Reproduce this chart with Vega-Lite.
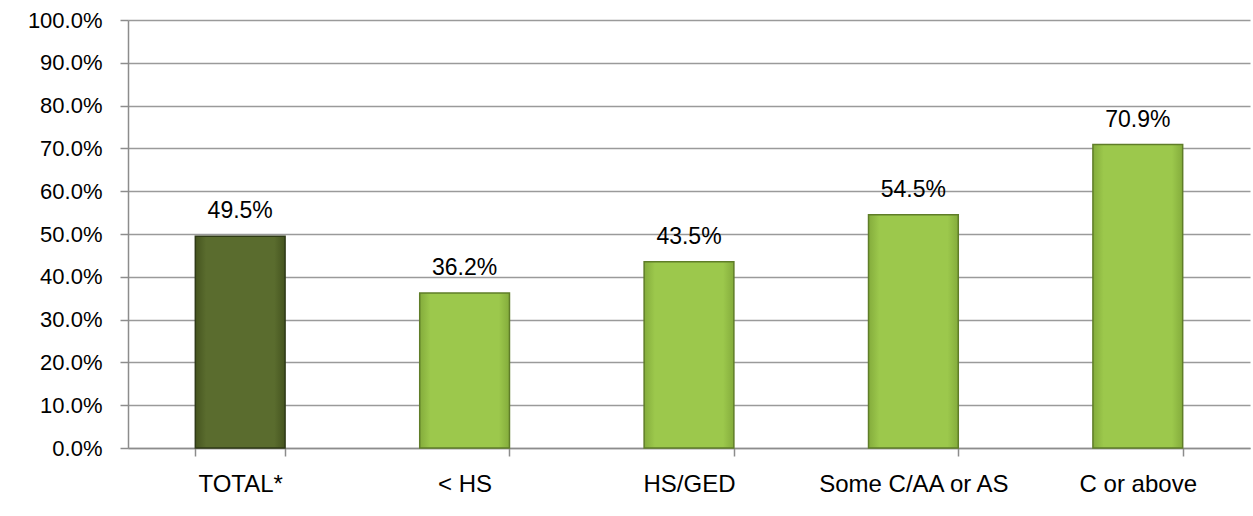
{
  "$schema": "https://vega.github.io/schema/vega-lite/v6.json",
  "autosize": "none",
  "width": 1122,
  "height": 428,
  "padding": {"left": 128, "top": 20, "right": 3, "bottom": 68},
  "background": "white",
  "config": {
    "view": {"stroke": null},
    "font": "Liberation Sans"
  },
  "data": {
    "values": [
      {"category": "TOTAL*", "value": 0.495, "group": "total"},
      {"category": "< HS", "value": 0.362, "group": "edu"},
      {"category": "HS/GED", "value": 0.435, "group": "edu"},
      {"category": "Some C/AA or AS", "value": 0.545, "group": "edu"},
      {"category": "C or above", "value": 0.709, "group": "edu"}
    ]
  },
  "encoding": {
    "x": {
      "field": "category",
      "type": "nominal",
      "sort": null,
      "title": null,
      "scale": {"paddingInner": 0.6, "paddingOuter": 0.3},
      "axis": {
        "labelAngle": 0,
        "labelFont": "Liberation Sans",
        "labelFontSize": 24,
        "labelLimit": 400,
        "labelColor": "#000000",
        "labelPadding": 16,
        "domainColor": "#8c8c8c",
        "domainWidth": 1.5,
        "tickColor": "#8c8c8c",
        "tickWidth": 1.5,
        "tickSize": 8,
        "tickBand": "extent",
        "grid": false
      }
    },
    "y": {
      "field": "value",
      "type": "quantitative",
      "title": null,
      "scale": {"domain": [0, 1], "nice": false},
      "axis": {
        "format": ".1%",
        "values": [0, 0.1, 0.2, 0.3, 0.4, 0.5, 0.6, 0.7, 0.8, 0.9, 1.0],
        "labelFont": "Liberation Sans",
        "labelFontSize": 22,
        "labelColor": "#000000",
        "labelPadding": 18,
        "domainColor": "#8c8c8c",
        "domainWidth": 1.5,
        "tickColor": "#8c8c8c",
        "tickWidth": 1.5,
        "tickSize": 8,
        "grid": true,
        "gridColor": "#9a9a9a",
        "gridWidth": 1.5
      }
    }
  },
  "layer": [
    {
      "transform": [{"filter": "datum.group === 'total'"}],
      "mark": {
        "type": "bar",
        "strokeWidth": 1.5,
        "stroke": "#2f3a17",
        "color": {
          "gradient": "linear", "x1": 0, "x2": 1, "y1": 0, "y2": 0,
          "stops": [
            {"offset": 0, "color": "#45541f"},
            {"offset": 0.12, "color": "#5a6c2e"},
            {"offset": 0.88, "color": "#5a6c2e"},
            {"offset": 1, "color": "#45541f"}
          ]
        }
      }
    },
    {
      "transform": [{"filter": "datum.group === 'edu'"}],
      "mark": {
        "type": "bar",
        "strokeWidth": 1.5,
        "stroke": "#5f7d28",
        "color": {
          "gradient": "linear", "x1": 0, "x2": 1, "y1": 0, "y2": 0,
          "stops": [
            {"offset": 0, "color": "#84ac3c"},
            {"offset": 0.12, "color": "#9cc84c"},
            {"offset": 0.88, "color": "#9cc84c"},
            {"offset": 1, "color": "#84ac3c"}
          ]
        }
      }
    },
    {
      "mark": {"type": "text", "baseline": "alphabetic", "dy": -18, "fontSize": 23, "font": "Liberation Sans", "color": "#000000"},
      "encoding": {
        "text": {"field": "value", "type": "quantitative", "format": ".1%"}
      }
    }
  ]
}
